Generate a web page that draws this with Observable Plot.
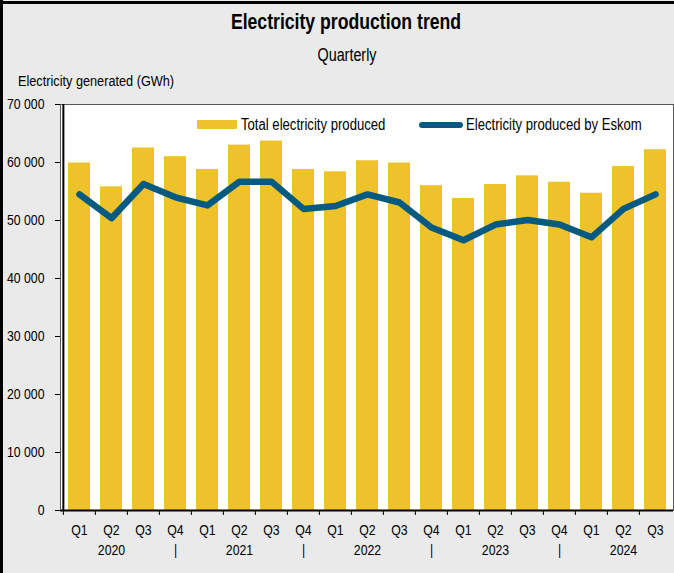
<!DOCTYPE html>
<html>
<head>
<meta charset="utf-8">
<script src="https://cdn.jsdelivr.net/npm/d3@7"></script>
<script src="https://cdn.jsdelivr.net/npm/@observablehq/plot@0.6"></script>
<style>
  body { margin: 0; background: #ffffff; }
  #wrap { position: relative; width: 674px; height: 573px; background: #eaeaea; overflow: hidden;
          font-family: "Liberation Sans", Arial, sans-serif; color: #000; }
  .bl { position: absolute; left: 0; top: 0; width: 3px; height: 573px; background: #000; }
  .bt { position: absolute; left: 0; top: 1px; width: 674px; height: 3px; background: #000; }
  .txt { position: absolute; white-space: nowrap; }
  #title { left: 0; width: 692px; text-align: center; top: 11.8px; font-size: 21.5px; line-height: 21.5px; font-weight: bold;
           transform: scaleX(0.82); transform-origin: 346px 0; }
  #sub { left: 0; width: 694px; text-align: center; top: 46.9px; font-size: 17.5px; line-height: 17.5px;
         transform: scaleX(0.82); transform-origin: 347px 0; }
  #ylab { left: 18px; top: 72.6px; font-size: 15.5px; line-height: 15.5px; transform: scaleX(0.82); transform-origin: 0 0; }
  #chart { position: absolute; left: 0; top: 90px; }
  .sw1 { position: absolute; left: 197px; top: 120px; width: 40px; height: 9px; }
  .sw2 { position: absolute; left: 419px; top: 122px; width: 44px; height: 6px; border-radius: 3px; }
  .lt { position: absolute; top: 116.5px; font-size: 16px; line-height: 16px; white-space: nowrap; transform: scaleX(0.82); transform-origin: 0 0; }
</style>
</head>
<body>
<div id="wrap">
  <div id="chart"></div>
  <div class="bl"></div>
  <div class="bt"></div>
  <div id="title" class="txt">Electricity production trend</div>
  <div id="sub" class="txt">Quarterly</div>
  <div id="ylab" class="txt">Electricity generated (GWh)</div>
  <div class="sw1" id="sw1"></div>
  <div class="lt" id="lt1" style="left:241px"></div>
  <div class="sw2" id="sw2"></div>
  <div class="lt" id="lt2" style="left:466px"></div>
</div>
<script>
// ---- data ----
const years    = ["2020","2020","2020","2020","2021","2021","2021","2021","2022","2022","2022","2022","2023","2023","2023","2023","2024","2024","2024"];
const quarters = ["Q1","Q2","Q3","Q4","Q1","Q2","Q3","Q4","Q1","Q2","Q3","Q4","Q1","Q2","Q3","Q4","Q1","Q2","Q3"];
const totalProduced = [59900, 55800, 62500, 61000, 58800, 63000, 63700, 58800, 58400, 60300, 59900, 56000, 53800, 56200, 57700, 56600, 54700, 59300, 62200];
const eskomProduced = [54500, 50400, 56300, 54000, 52600, 56700, 56700, 52000, 52500, 54500, 53100, 48800, 46600, 49300, 50100, 49300, 47100, 52000, 54500];
const yTicks = [0, 10000, 20000, 30000, 40000, 50000, 60000, 70000];
const seriesNames = ["Total electricity produced", "Electricity produced by Eskom"];

// ---- style ----
const barColor = "#eec22b";
const lineColor = "#045a80";
const narrow = 0.82;
const fontFamily = '"Liberation Sans", Arial, sans-serif';
document.getElementById("sw1").style.background = barColor;
document.getElementById("sw2").style.background = lineColor;
document.getElementById("lt1").textContent = seriesNames[0];
document.getElementById("lt2").textContent = seriesNames[1];

const data = years.map((y, i) => ({ key: y + " " + quarters[i], year: y, quarter: quarters[i], total: totalProduced[i], eskom: eskomProduced[i] }));
const keys = data.map(d => d.key);
const qLabel = new Map(data.map(d => [d.key, d.quarter]));
const yLabel = new Map(data.map(d => [d.key, d.quarter === "Q2" ? d.year : (d.quarter === "Q4" ? "|" : "")]));

const W = 674, H = 483, mL = 60, mR = 1, mT = 14, mB = 63;
const step = (W - mL - mR) / keys.length;
const fmt = v => d3.format(",")(v).replace(/,/g, " ");

const chart = Plot.plot({
  width: W, height: H,
  marginLeft: mL, marginRight: mR, marginTop: mT, marginBottom: mB,
  style: { background: "transparent", fontFamily, fontSize: "15px", color: "#000", overflow: "visible" },
  x: { type: "band", domain: keys, paddingInner: 0.32, paddingOuter: 0.16, align: 0.5, axis: null, label: null },
  y: { domain: [0, 70000], axis: null, label: null },
  marks: [
    Plot.frame({ fill: "white", stroke: "#5a5a5a", strokeWidth: 1 }),
    Plot.barY(data, { x: "key", y: "total", fill: barColor }),
    Plot.line(data, { x: "key", y: "eskom", stroke: lineColor, strokeWidth: 6.5, strokeLinejoin: "round", strokeLinecap: "round" }),
    Plot.axisY({ ticks: yTicks, tickSize: 5, tickPadding: 11, tickFormat: fmt, fontSize: 15, stroke: "#000", label: null }),
    Plot.ruleX([keys[0]], { x: d => d, y1: 0, y2: 70000, dx: -step / 2, stroke: "#000", strokeWidth: 2 }),
    Plot.ruleY([0], { stroke: "#000", strokeWidth: 2 }),
    Plot.axisX({ tickSize: 5, tickFormat: () => "", dx: -step / 2, stroke: "#000", label: null }),
    Plot.axisX({ tickSize: 0, tickPadding: 14, tickFormat: d => qLabel.get(d), fontSize: 15, label: null }),
    Plot.axisX({ tickSize: 0, tickPadding: 34, tickFormat: d => yLabel.get(d), fontSize: 15, label: null })
  ]
});

// condense axis label glyphs horizontally (narrow typeface look) around each label's anchor
chart.querySelectorAll("text").forEach(t => {
  const tr = t.getAttribute("transform");
  if (tr) {
    t.setAttribute("transform", tr + ` scale(${narrow},1)`);
  } else {
    const x = +t.getAttribute("x") || 0, y = +t.getAttribute("y") || 0;
    t.removeAttribute("x"); t.removeAttribute("y");
    t.setAttribute("transform", `translate(${x},${y}) scale(${narrow},1)`);
  }
});
document.getElementById("chart").appendChild(chart);
</script>
</body>
</html>
